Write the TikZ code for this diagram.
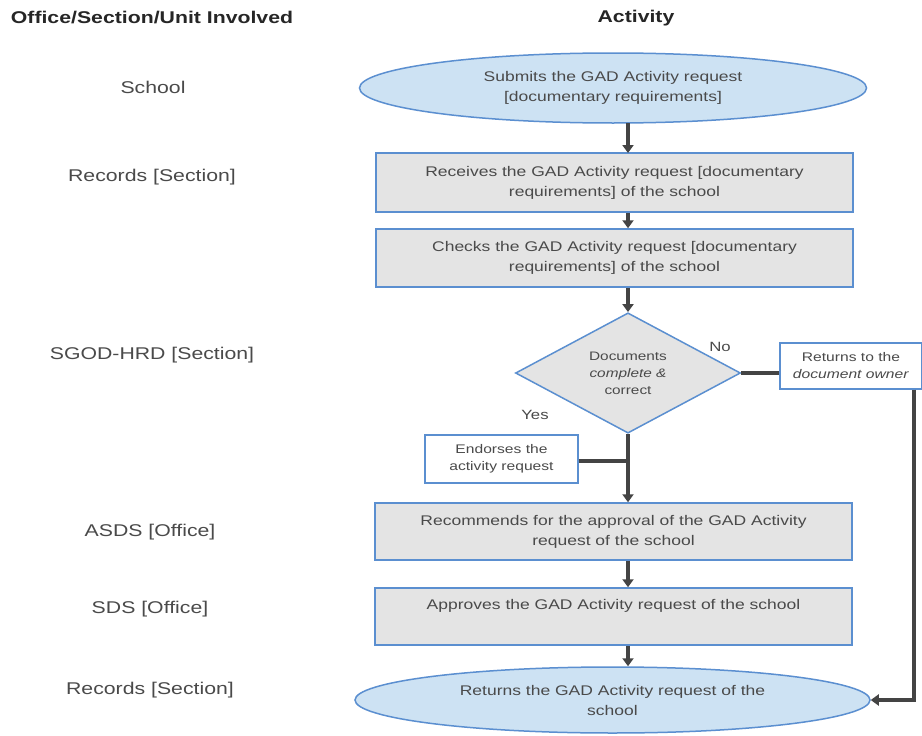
\documentclass[tikz,border=0pt]{standalone}
\usepackage{fontspec}
\setmainfont{Liberation Sans}[FakeStretch=1.25]
\usetikzlibrary{shapes.geometric,arrows.meta}
\definecolor{txt}{HTML}{4A4A4A}
\definecolor{bord}{HTML}{5B8FD0}
\definecolor{boxfill}{HTML}{E4E4E4}
\definecolor{ellfill}{HTML}{CDE2F3}
\definecolor{lnc}{HTML}{444444}
\tikzset{
  every node/.style={text=txt, font=\fontsize{14}{20}\selectfont},
  procbox/.style={draw=bord, line width=1.5pt, fill=boxfill, rectangle, minimum width=477pt, inner sep=0pt, align=center},
  smallbox/.style={draw=bord, line width=1.2pt, fill=white, rectangle, inner sep=0pt, align=center, font=\fontsize{12.5}{17}\selectfont},
  term/.style={draw=bord, line width=1.5pt, fill=ellfill, ellipse, inner sep=0pt, align=center},
  dec/.style={draw=bord, line width=1.5pt, fill=boxfill, diamond, inner sep=0pt, align=center, font=\fontsize{12.3}{17}\selectfont},
  lab/.style={font=\fontsize{17}{20}\selectfont, text=txt},
  hdr/.style={font=\bfseries\fontsize{17}{20}\selectfont, text=black!85},
  small/.style={font=\fontsize{13.4}{16}\selectfont},
  flow/.style={draw=lnc, line width=3.2pt, -{Triangle[length=8pt,width=11pt]}},
  plain/.style={draw=lnc, line width=3.2pt}
}
\begin{document}
\begin{tikzpicture}[x=1pt,y=-1pt]
\useasboundingbox[fill=white] (0,0) rectangle (922,736);
% headers
\node[hdr] (h1) at (152,18) {Office/Section/Unit Involved};
\node[hdr] (h2) at (636,18) {Activity};
% left labels
\node[lab] (l1) at (153,87) {School};
\node[lab] (l2) at (152,177) {Records [Section]};
\node[lab] (l3) at (152,355) {SGOD-HRD [Section]};
\node[lab] (l4) at (150,532) {ASDS [Office]};
\node[lab] (l5) at (150,609) {SDS [Office]};
\node[lab] (l6) at (150,690) {Records [Section]};
% flow
\node[term, minimum width=507pt, minimum height=70pt] (e1) at (613,88) {Submits the GAD Activity request\\{}[documentary requirements]};
\node[procbox, minimum height=59pt] (b1) at (614.5,182.5) {Receives the GAD Activity request [documentary\\requirements] of the school};
\node[procbox, minimum height=58pt] (b2) at (614.5,258) {Checks the GAD Activity request [documentary\\requirements] of the school};
\node[dec, minimum width=225pt, minimum height=120pt] (d) at (628,373) {Documents\\\textit{complete \&}\\correct};
\node[smallbox, minimum width=142pt, minimum height=46pt] (ret) at (851,366) {Returns to the\\\textit{document owner}};
\node[smallbox, minimum width=153pt, minimum height=48pt] (end) at (501.5,459) {Endorses the\\activity request};
\node[procbox, minimum height=57pt] (b3) at (613.5,531.5) {Recommends for the approval of the GAD Activity\\request of the school};
\node[procbox, minimum height=57pt, text depth=24pt] (b4) at (613.5,616.5) {Approves the GAD Activity request of the school};
\node[term, minimum width=515pt, minimum height=66pt] (e2) at (612.5,700) {Returns the GAD Activity request of the\\school};
% labels on decision
\node[small] (no) at (720,347) {No};
\node[small] (yes) at (535,415) {Yes};
% connectors
\coordinate (m1) at (628,461);
\draw[flow] (628,123) -- (628,153);
\draw[flow] (b1.south -| 628,0) -- (b2.north -| 628,0);
\draw[flow] (b2.south -| 628,0) -- (d.north);
\draw[flow] (d.south) -- (b3.north -| 628,0);
\draw[plain] (end.east |- m1) -- (m1);
\draw[plain] (d.east) -- (ret.west |- d.east);
\draw[flow] (b3.south -| 628,0) -- (b4.north -| 628,0);
\draw[flow] (b4.south -| 628,0) -- (e2.north -| 628,0);
\coordinate (c1) at (914,700);
\draw[flow] (ret.south -| c1) -- (c1) -- (e2.east);
\end{tikzpicture}
\end{document}
